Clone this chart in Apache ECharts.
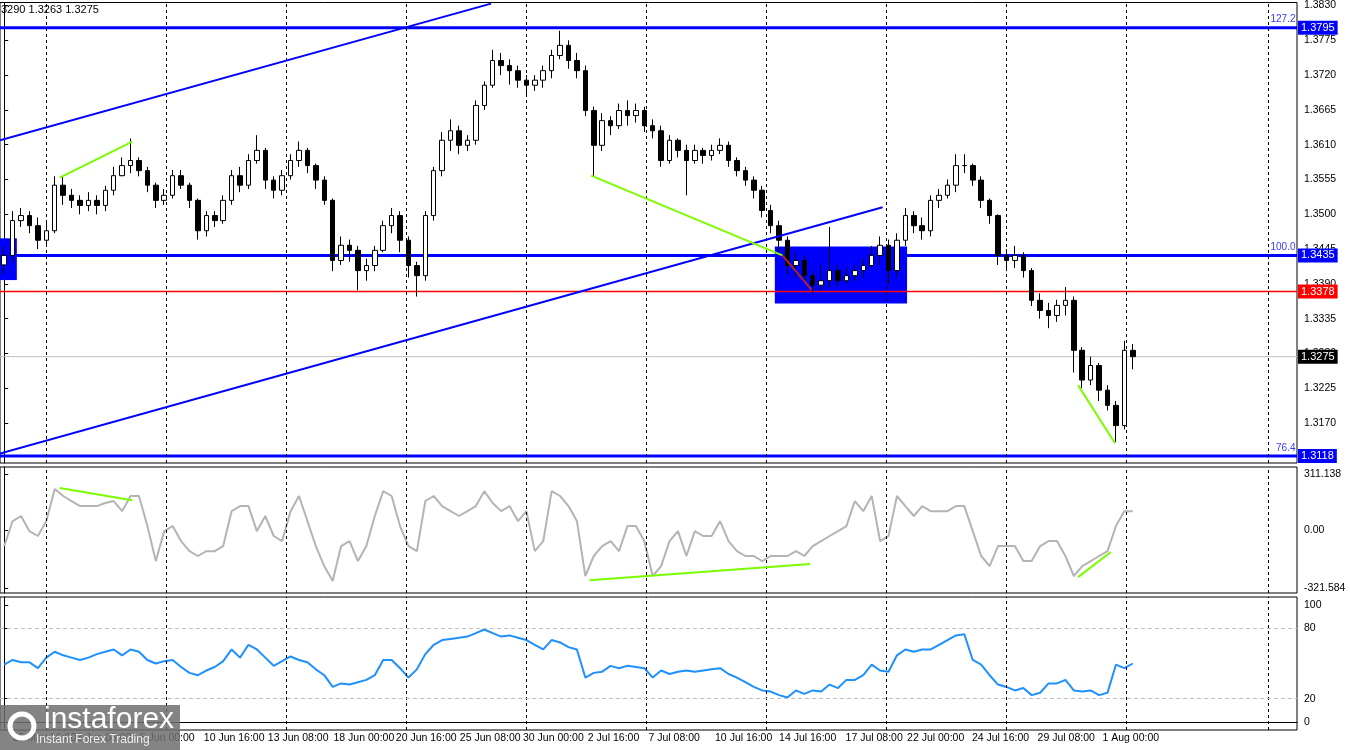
<!DOCTYPE html>
<html><head><meta charset="utf-8">
<script src="https://cdn.jsdelivr.net/npm/echarts@6/dist/echarts.min.js"></script>
<style>html,body{margin:0;padding:0;background:#fff}#c{width:1350px;height:750px}</style>
</head><body><div id="c"></div>
<script>
const closes=[1.3435,1.3490,1.3498,1.3482,1.3459,1.3474,1.3546,1.3530,1.3522,1.3514,1.3522,1.3514,1.3538,1.3561,1.3577,1.3585,1.3569,1.3546,1.3522,1.3530,1.3561,1.3546,1.3522,1.3474,1.3498,1.3490,1.3522,1.3561,1.3546,1.3585,1.3601,1.3554,1.3538,1.3561,1.3585,1.3601,1.3577,1.3554,1.3522,1.3427,1.3451,1.3443,1.3411,1.3419,1.3443,1.3482,1.3498,1.3459,1.3419,1.3403,1.3498,1.3569,1.3617,1.3632,1.3609,1.3617,1.3672,1.3704,1.3743,1.3735,1.3727,1.3712,1.3704,1.3712,1.3727,1.3751,1.3767,1.3743,1.3727,1.3664,1.3609,1.3648,1.3640,1.3664,1.3656,1.3664,1.3640,1.3632,1.3585,1.3617,1.3601,1.3585,1.3601,1.3593,1.3601,1.3609,1.3585,1.3569,1.3554,1.3538,1.3506,1.3482,1.3459,1.3419,1.3427,1.3403,1.3388,1.3395,1.3411,1.3395,1.3403,1.3411,1.3419,1.3435,1.3451,1.3411,1.3459,1.3498,1.3482,1.3474,1.3522,1.3530,1.3546,1.3577,1.3577,1.3554,1.3522,1.3498,1.3435,1.3427,1.3435,1.3411,1.3364,1.3348,1.3340,1.3356,1.3364,1.3285,1.3238,1.3261,1.3222,1.3198,1.3166,1.3285,1.3275];
const highs=[1.3450,1.3505,1.3510,1.3505,1.3495,1.3490,1.3560,1.3560,1.3540,1.3530,1.3535,1.3530,1.3545,1.3575,1.3590,1.3620,1.3590,1.3575,1.3550,1.3540,1.3570,1.3570,1.3550,1.3525,1.3505,1.3505,1.3530,1.3570,1.3575,1.3595,1.3625,1.3605,1.3560,1.3570,1.3595,1.3615,1.3605,1.3580,1.3560,1.3525,1.3465,1.3460,1.3450,1.3430,1.3450,1.3490,1.3510,1.3505,1.3465,1.3425,1.3505,1.3575,1.3630,1.3650,1.3640,1.3625,1.3680,1.3710,1.3760,1.3755,1.3745,1.3735,1.3720,1.3720,1.3735,1.3760,1.3790,1.3775,1.3755,1.3735,1.3670,1.3660,1.3655,1.3675,1.3680,1.3675,1.3670,1.3650,1.3640,1.3625,1.3620,1.3610,1.3610,1.3605,1.3610,1.3620,1.3615,1.3590,1.3575,1.3560,1.3545,1.3515,1.3490,1.3465,1.3440,1.3435,1.3410,1.3420,1.3480,1.3420,1.3415,1.3420,1.3430,1.3450,1.3465,1.3460,1.3470,1.3510,1.3505,1.3495,1.3530,1.3540,1.3555,1.3595,1.3595,1.3580,1.3560,1.3525,1.3500,1.3445,1.3450,1.3440,1.3415,1.3375,1.3360,1.3365,1.3385,1.3370,1.3290,1.3275,1.3265,1.3230,1.3205,1.3300,1.3295];
const lows=[1.3405,1.3425,1.3480,1.3470,1.3445,1.3450,1.3470,1.3515,1.3510,1.3500,1.3505,1.3500,1.3505,1.3530,1.3560,1.3565,1.3560,1.3535,1.3510,1.3515,1.3525,1.3540,1.3510,1.3460,1.3465,1.3480,1.3485,1.3515,1.3535,1.3540,1.3580,1.3540,1.3525,1.3530,1.3555,1.3575,1.3565,1.3540,1.3515,1.3410,1.3420,1.3425,1.3380,1.3395,1.3410,1.3440,1.3470,1.3440,1.3400,1.3370,1.3395,1.3490,1.3560,1.3600,1.3595,1.3600,1.3610,1.3665,1.3700,1.3720,1.3705,1.3700,1.3690,1.3695,1.3700,1.3715,1.3745,1.3730,1.3715,1.3655,1.3560,1.3600,1.3625,1.3635,1.3640,1.3645,1.3630,1.3620,1.3575,1.3580,1.3590,1.3530,1.3580,1.3580,1.3585,1.3595,1.3575,1.3560,1.3545,1.3525,1.3495,1.3470,1.3440,1.3405,1.3400,1.3395,1.3375,1.3380,1.3385,1.3385,1.3390,1.3395,1.3400,1.3415,1.3420,1.3390,1.3400,1.3450,1.3470,1.3460,1.3465,1.3510,1.3525,1.3535,1.3565,1.3545,1.3510,1.3485,1.3420,1.3410,1.3415,1.3400,1.3355,1.3335,1.3320,1.3330,1.3340,1.3250,1.3225,1.3230,1.3205,1.3190,1.3140,1.3160,1.3255];
const firstOpen=1.3420;
const cci=[-89,50,78,-6,-33,50,228,189,161,133,133,133,150,161,105,189,189,22,-172,-6,22,-61,-117,-144,-117,-117,-89,105,133,133,-6,78,-33,-61,105,189,50,-89,-200,-283,-89,-61,-172,-89,78,216,189,22,-89,-117,161,189,133,105,78,105,133,216,150,105,133,50,105,-117,-61,216,189,133,50,-255,-144,-89,-61,-117,22,22,-61,-255,-200,-61,-6,-144,-6,-33,-33,50,-61,-117,-144,-144,-172,-144,-144,-144,-117,-144,-89,-61,-33,-6,22,161,105,189,-61,-33,189,133,78,133,105,105,105,133,133,-6,-144,-200,-89,-89,-89,-172,-172,-89,-61,-61,-144,-255,-200,-172,-144,-117,22,105,105];
const rsi=[49,53,51,51,46,55,60,57,55,53,55,58,60,62,57,62,60,53,50,52,53,47,42,40,44,47,52,62,55,66,62,55,48,52,56,53,51,45,40,30,33,32,34,36,40,53,53,46,38,45,58,66,70,71,72,73,76,79,76,73,74,72,70,66,62,70,68,64,62,38,42,43,48,46,48,47,46,38,44,41,43,44,43,44,45,46,41,38,34,30,27,26,23,21,27,24,27,26,32,29,36,36,40,49,44,43,57,62,60,62,62,66,70,74,75,53,49,40,32,30,27,29,23,25,33,33,36,27,26,27,23,25,49,46,50];
const priceTicks=[1.3830,1.3775,1.3720,1.3665,1.3610,1.3555,1.3500,1.3445,1.3390,1.3335,1.3280,1.3225,1.3170];
const timeLabels=['27 May 00:00','29 May 16:00','3 Jun 08:00','5 Jun 00:00','10 Jun 16:00','13 Jun 08:00','18 Jun 00:00','20 Jun 16:00','25 Jun 08:00','30 Jun 00:00','2 Jul 16:00','7 Jul 08:00','10 Jul 16:00','14 Jul 16:00','17 Jul 08:00','22 Jul 00:00','24 Jul 16:00','29 Jul 08:00','1 Aug 00:00'];
const timeLabelPos=[-6.6,1.0,8.6,16.1,23.7,31.3,39.1,46.5,54.1,61.6,69.3,76.5,84.4,92.0,99.9,107.2,114.9,122.7,130.4];
const gridLinePos=[5.0,19.2,33.5,47.7,62.0,76.2,90.5,104.7,119.0,133.2,150.1];
const fibValues=[1.3795,1.3435,1.3118];
const fibNames=['127.2','100.0','76.4'];
const redLevel=1.3378, bidLevel=1.3275;
const upperChannel=[[-0.5,1.3617],[57.8,1.3833]];
const lowerChannel=[[-0.5,1.3122],[104.3,1.3511]];
const greenPrice=[[[6.6,1.3558],[15.2,1.3615]],[[69.7,1.3561],[92.4,1.3435]],[[127.5,1.3230],[131.9,1.3138]]];
const redSeg=[[92.4,1.3435],[95.9,1.3380]];
const boxes=[[[-0.5,1.3462],[1.5,1.3396]],[[91.5,1.3449],[107.2,1.3359]]];
const greenCci=[[[6.6,233],[15.2,166]],[[69.5,-278],[95.7,-189]],[[127.5,-261],[131.4,-122]]];
const cciLabels=[311.138,0,-321.584];
const rsiLabels=[100,80,20,0];
const NCAT=154;

const cats=[];for(let i=0;i<NCAT;i++)cats.push(String(i));
const ohlc=closes.map((c,i)=>[i?closes[i-1]:firstOpen,c,lows[i],highs[i]]);
const F='"Liberation Sans", Arial, sans-serif';
const X0=-0.5, X1=NCAT-0.5;
const vLines={silent:true,symbol:'none',label:{show:false},lineStyle:{color:'#000',type:[3,3],width:1},data:gridLinePos.map(x=>({xAxis:x}))};
const xv=(g)=>({type:'value',gridIndex:g,min:X0,max:X1,show:false});
const seg=(d,c,w,xi,yi,z)=>({type:'line',xAxisIndex:xi,yAxisIndex:yi,data:d,symbol:'none',silent:true,lineStyle:{color:c,width:w},z:z||3});
const level=(v,color,width,bg,z)=>({type:'line',xAxisIndex:1,yAxisIndex:0,symbol:'none',silent:true,z:z,clip:false,
  itemStyle:{color:color},lineStyle:{color:color,width:width},
  data:[[X0,v],[X1,v]],
  endLabel:{show:true,formatter:v.toFixed(4),color:'#fff',backgroundColor:bg,padding:[2,3,1,3],fontSize:11,fontFamily:F,distance:1}});

const option={
 animation:false,
 textStyle:{fontFamily:F},
 grid:[
  {left:0,right:53,top:2,height:461,show:true,borderColor:'#000',borderWidth:1},
  {left:0,right:53,top:467,height:126,show:true,borderColor:'#000',borderWidth:1},
  {left:0,right:53,top:597,height:133,show:true,borderColor:'#000',borderWidth:1}
 ],
 xAxis:[
  {type:'category',gridIndex:0,data:cats,show:false,boundaryGap:true},
  xv(0),xv(1),
  {type:'value',gridIndex:2,min:X0,max:X1,show:true,position:'bottom',axisLine:{show:true,lineStyle:{color:'#000'}},axisTick:{show:false},splitLine:{show:false},
   axisLabel:{customValues:timeLabelPos,formatter:v=>{const k=timeLabelPos.findIndex(p=>Math.abs(p-v)<1e-6);return k>=0?timeLabels[k]:'';},align:'left',color:'#000',fontSize:10.5,fontFamily:F,margin:3,showMinLabel:true,showMaxLabel:true,hideOverlap:false}}
 ],
 yAxis:[
  {type:'value',gridIndex:0,position:'right',min:1.31069,max:1.38347,splitLine:{show:false},axisLine:{show:true,lineStyle:{color:'#000'}},axisTick:{show:true,customValues:priceTicks,length:4,lineStyle:{color:'#000'}},axisLabel:{customValues:priceTicks,formatter:v=>v.toFixed(4),color:'#000',fontSize:10.5,fontFamily:F,margin:7}},
  {type:'value',gridIndex:1,position:'right',min:-349.3,max:350,splitLine:{show:false},axisLine:{show:true,lineStyle:{color:'#000'}},axisTick:{show:true,customValues:cciLabels,length:4},axisLabel:{customValues:cciLabels,formatter:v=>v===0?'0.00':v.toFixed(3),color:'#000',fontSize:10.5,fontFamily:F,margin:7}},
  {type:'value',gridIndex:2,position:'right',min:-6.8,max:106.8,splitLine:{show:false},axisLine:{show:true,lineStyle:{color:'#000'}},axisTick:{show:true,customValues:rsiLabels,length:4},axisLabel:{customValues:rsiLabels,formatter:v=>String(v),color:'#000',fontSize:10.5,fontFamily:F,margin:7}}
 ],
 series:[
  {type:'line',xAxisIndex:1,yAxisIndex:0,data:[],symbol:'none',silent:true,z:1,markLine:vLines,
   markArea:{silent:true,itemStyle:{color:'#0000ff'},data:boxes.map(b=>[{coord:b[0]},{coord:b[1]}])}},
  level(bidLevel,'#c0c0c0',1,'#000000',2),
  level(redLevel,'#ff0000',1.5,'#ff0000',3),
  ...fibValues.map(v=>level(v,'#0000ff',3,'#0000ff',4)),
  {type:'scatter',xAxisIndex:1,yAxisIndex:0,symbolSize:1,silent:true,z:7,itemStyle:{color:'rgba(0,0,0,0)'},
   data:fibValues.map((v,k)=>({value:[X1,v],name:fibNames[k]})),
   label:{show:true,position:'left',formatter:p=>p.name,color:'#0000ff',fontSize:10,fontFamily:F,offset:[0,-8],distance:1}},
  {type:'candlestick',xAxisIndex:0,yAxisIndex:0,data:ohlc,barWidth:5,z:5,
   itemStyle:{color:'#ffffff',color0:'#000000',borderColor:'#000000',borderColor0:'#000000',borderWidth:1}},
  seg(upperChannel,'#0000ff',2,1,0,6),
  seg(lowerChannel,'#0000ff',2,1,0,6),
  ...greenPrice.map(d=>seg(d,'#7cfc00',2,1,0,6)),
  seg(redSeg,'#b22222',2,1,0,6),
  {type:'line',xAxisIndex:2,yAxisIndex:1,data:cci.map((v,i)=>[i,v]),symbol:'none',lineStyle:{color:'#b4b4b4',width:2},z:3,markLine:vLines},
  ...greenCci.map(d=>seg(d,'#7cfc00',2,2,1,6)),
  {type:'line',xAxisIndex:3,yAxisIndex:2,data:rsi.map((v,i)=>[i,v]),symbol:'none',lineStyle:{color:'#1e90ff',width:2},z:3,
   markLine:{silent:true,symbol:'none',label:{show:false},data:[...gridLinePos.map(x=>({xAxis:x,lineStyle:{color:'#000',type:[3,3],width:1}})),{yAxis:80,lineStyle:{color:'#c0c0c0',type:[4,3],width:1}},{yAxis:20,lineStyle:{color:'#c0c0c0',type:[4,3],width:1}}]}}
 ],
 graphic:[
  {type:'text',left:1,top:4,style:{text:'3290 1.3263 1.3275',fill:'#000',font:'11px '+F}},
  {type:'rect',left:0,top:705,shape:{width:180,height:45},style:{fill:'rgba(110,110,110,0.85)'},z:100},
  {type:'text',left:44,top:705,style:{text:'instaforex',fill:'#fff',font:'30px '+F},z:101},
  {type:'text',left:36,top:734,style:{text:'Instant Forex Trading',fill:'#eee',font:'12px '+F},z:101},
  {type:'circle',shape:{cx:22,cy:726,r:12},style:{fill:'none',stroke:'#fff',lineWidth:5},z:101}
 ]
};
echarts.init(document.getElementById('c')).setOption(option);
</script></body></html>
